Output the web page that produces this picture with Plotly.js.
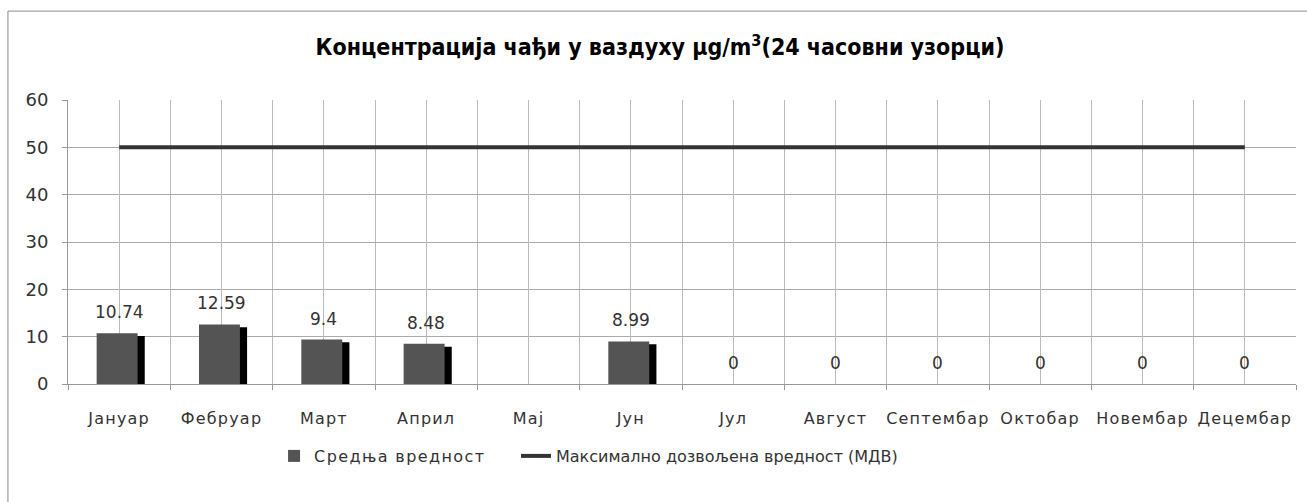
<!DOCTYPE html>
<html>
<head>
<meta charset="utf-8">
<script src="https://cdn.plot.ly/plotly-3.0.1.min.js"></script>
<style>
html,body{margin:0;padding:0;background:#fff;}
#chart{width:1307px;height:502px;}
#chart .xtick text { letter-spacing: 1.2px; }
#chart .legendtext { letter-spacing: 1.4px; }
</style>
</head>
<body>
<div id="chart"></div>
<script>
const months = ['Јануар','Фебруар','Март','Април','Мај','Јун','Јул','Август','Септембар','Октобар','Новембар','Децембар'];
const meanValues = [10.74, 12.59, 9.4, 8.48, null, 8.99, 0, 0, 0, 0, 0, 0];
const limitValues = [50, 50, 50, 50, 50, 50, 50, 50, 50, 50, 50, 50];
const seriesNames = ['Средња вредност', 'Максимално дозвољена вредност (МДВ)'];
const titleText = 'Концентрација чађи у ваздуху μg/m<sup>3</sup>(24 часовни узорци)';
const yTicks = [0, 10, 20, 30, 40, 50, 60];

const font = 'DejaVu Sans, Verdana, sans-serif';

const shadow = {
  type: 'bar', x: months, y: meanValues, xaxis: 'x', yaxis: 'y',
  width: 0.4, offset: -0.15, base: -0.6,
  marker: {color: '#000000', line: {width: 0}},
  showlegend: false, hoverinfo: 'skip'
};
const bars = {
  type: 'bar', x: months, y: meanValues, name: seriesNames[0], xaxis: 'x', yaxis: 'y',
  width: 0.4, offset: -0.22, legend: 'legend',
  marker: {color: '#545454', line: {width: 0}}
};
const line = {
  type: 'scatter', mode: 'lines', x: months, y: limitValues, name: seriesNames[1],
  xaxis: 'x2', yaxis: 'y', legend: 'legend2',
  line: {color: '#333333', width: 4}
};

const annotations = [];
months.forEach((m, i) => {
  const v = meanValues[i];
  if (v === null) return;
  annotations.push({
    x: m, y: v, xref: 'x', yref: 'y', text: String(v), showarrow: false,
    yshift: 21, yanchor: 'middle', xanchor: 'center',
    font: {family: font, size: 17, color: '#333333'}
  });
});

const legendFont = {family: font, size: 16, color: '#333333'};

const layout = {
  width: 1307, height: 502,
  margin: {l: 68, r: 11, t: 100, b: 118},
  paper_bgcolor: '#ffffff', plot_bgcolor: '#ffffff',
  barmode: 'overlay',
  title: {
    text: titleText, x: 0.505, xanchor: 'center', y: 0.906, yanchor: 'middle',
    font: {family: 'DejaVu Sans Condensed, DejaVu Sans, sans-serif', size: 23, color: '#000000', weight: 'bold'}
  },
  xaxis: {
    type: 'category', categoryorder: 'array', categoryarray: months,
    range: [-0.5, 11.5], tickson: 'boundaries', ticks: 'outside', ticklen: 5,
    tickcolor: '#999999', showgrid: true, gridcolor: '#bbbbbb', gridwidth: 1,
    showline: true, linecolor: '#999999', linewidth: 1,
    ticklabelstandoff: 20,
    tickfont: {family: font, size: 16, color: '#333333'}, zeroline: false
  },
  xaxis2: {
    type: 'category', categoryorder: 'array', categoryarray: months,
    overlaying: 'x', range: [-0.5, 11.5], showgrid: true, gridcolor: '#bbbbbb',
    showticklabels: false, ticks: '', showline: false, zeroline: false
  },
  yaxis: {
    range: [0, 60], tickvals: yTicks, ticks: 'outside', ticklen: 5, tickcolor: '#999999',
    showgrid: true, gridcolor: '#aaaaaa', gridwidth: 1,
    showline: true, linecolor: '#999999', linewidth: 1, zeroline: false,
    ticklabelstandoff: 10,
    tickfont: {family: font, size: 18, color: '#333333'}
  },
  legend: {
    orientation: 'h', x: 0.1678, xanchor: 'left', y: -0.2535, yanchor: 'middle',
    font: legendFont, bgcolor: 'rgba(0,0,0,0)',
    entrywidth: 230, entrywidthmode: 'pixels'
  },
  legend2: {
    orientation: 'h', x: 0.3648, xanchor: 'left', y: -0.2535, yanchor: 'middle',
    font: legendFont, bgcolor: 'rgba(0,0,0,0)',
    entrywidth: 540, entrywidthmode: 'pixels'
  },
  annotations: annotations,
  shapes: [{
    type: 'rect', xref: 'paper', yref: 'paper', x0: -0.0489, x1: 1.02, y0: -0.5, y1: 1.313,
    line: {color: '#8c8c8c', width: 1}, fillcolor: 'rgba(0,0,0,0)', layer: 'below'
  }],
  showlegend: true
};

Plotly.newPlot('chart', [shadow, bars, line], layout, {displayModeBar: false, staticPlot: true}).then(function () {
  document.querySelectorAll('#chart .legendtext').forEach(function (t) {
    if ((t.textContent || '').indexOf(seriesNames[1]) === 0) {
      t.style.letterSpacing = '3.3px';
    }
  });
});
</script>
</body>
</html>
